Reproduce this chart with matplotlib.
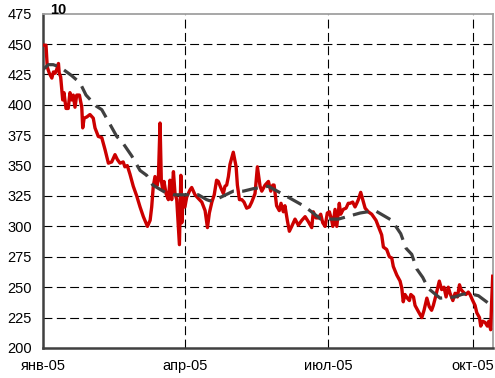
import numpy as np
import pandas as pd
import matplotlib
matplotlib.use("Agg")
import matplotlib.pyplot as plt
import matplotlib.dates as mdates

plt.rcParams['font.family'] = ['Liberation Sans', 'DejaVu Sans']

# days since 1 Jan 2005 and price
price_day = [0, 1.9, 2.7, 4.0, 5.6, 6.6, 7.7, 8.7, 9.8, 10.3, 11.2, 12.5, 13.3, 14.6, 16.0,
             17.1, 18.2, 19.2, 20.3, 21.4, 23.1, 24.6, 25.2, 26.1, 27.8, 29.8, 31.9, 33.0,
             35.1, 37.3, 39.4, 41.5, 43.6, 45.7, 47.2, 48.9, 50.9, 52.0, 53.5, 55.2, 57.3,
             59.5, 61.6, 63.7, 66.3, 68.0, 69.0, 70.0, 71.1, 72.2, 73.2, 74.3, 75.1, 76.0,
             76.8, 78.1, 79.6, 80.6, 81.7, 82.8, 83.8, 84.9, 85.9, 86.6, 87.5, 88.1, 89.0,
             90.1, 91.2, 93.3, 94.4, 96.5, 98.6, 100.8, 102.9, 104.4, 105.6, 107.2, 108.7,
             110.2, 111.3, 112.8, 114.5, 115.5, 116.6, 117.7, 118.7, 120.8, 122.6, 123.4,
             124.7, 126.2, 127.6, 129.3, 131.0, 132.5, 134.6, 136.1, 137.8, 138.9, 141.0,
             143.1, 144.6, 145.9, 146.7, 148.3, 150.0, 151.1, 152.6, 153.6, 155.1, 156.4,
             157.9, 160.0, 162.1, 164.3, 166.4, 168.4, 170.6, 171.6, 173.3, 174.8, 176.3,
             177.6, 179.1, 180.5, 181.8, 183.3, 184.0, 185.4, 186.5, 188.1, 189.0, 190.6,
             192.4, 193.8, 194.9, 196.6, 198.1, 199.2, 200.2, 201.7, 203.0, 204.5, 206.5,
             208.7, 211.4, 212.9, 215.0, 216.1, 218.2, 219.9, 221.4, 222.4, 224.6, 226.7,
             227.8, 228.7, 229.8, 231.3, 232.6, 233.5, 235.2, 236.2, 238.3, 240.5, 241.9,
             243.7, 245.2, 246.7, 247.8, 249.2, 250.3, 251.6, 253.1, 254.6, 255.9, 257.3,
             258.4, 260.2, 261.6, 263.1, 264.4, 265.4, 266.8, 268.5, 270.0, 271.1, 272.8,
             274.3, 275.4, 277.1, 277.9, 279.2, 280.7, 282.1, 283.0, 284.2, 284.8, 285.5]
price_val = [449, 449, 431, 426, 422, 427, 426, 429, 434, 426, 423, 404, 410, 397, 397,
             410, 404, 408, 398, 408, 408, 398, 381, 389, 390, 392, 389, 381,
             374, 373, 363, 352, 353, 359, 355, 352, 353, 349, 350, 343, 333,
             325, 316, 308, 300, 305, 316, 333, 341, 333, 338, 385, 338, 330,
             337, 327, 322, 338, 322, 345, 327, 322, 300, 285, 342, 303, 324,
             316, 324, 330, 332, 326, 323, 320, 313, 299, 311, 320, 326,
             338, 337, 332, 327, 333, 334, 341, 351, 361, 349, 334,
             322, 322, 320, 315, 316, 320, 327, 349, 333, 329, 334,
             337, 329, 334, 334, 317, 313, 319, 312, 317, 305, 296,
             300, 306, 301, 305, 308, 304, 299, 312, 307, 307, 310,
             303, 300, 311, 312, 305, 300, 314, 300, 319, 310, 314,
             315, 319, 319, 320, 316, 319, 322, 328, 322, 315, 312,
             310, 305, 300, 293, 283, 281, 275, 274, 267, 260, 255,
             249, 238, 244, 241, 239, 244, 242, 235, 230, 225, 231,
             241, 234, 231, 235, 242, 248, 255, 248, 250, 242, 250,
             245, 239, 245, 242, 252, 248, 246, 244, 246, 244, 239,
             235, 229, 225, 218, 222, 221, 218, 222, 215, 237, 259]

# smoothed trend
trend_day = [0, 3.4, 6.5, 10.8, 18.2, 23.5, 27.3, 33.7, 37.3, 42.5, 46.8, 51.0, 56.3,
             61.6, 65.8, 69.7, 77.5, 82.7, 90.2, 98.6, 103.9, 106.0, 111.3, 120.8, 127.2,
             133.5, 143.0, 147.3, 155.7, 165.3, 169.5, 176.3, 187.5, 201.3, 210.8, 221.4,
             227.1, 230.5, 234.1, 237.3, 241.1, 244.6, 252.1, 261.6, 265.8, 270.0, 276.4, 285.7]
trend_val = [429, 433, 433, 431, 424, 418, 408, 399, 396, 384, 374, 368, 358,
             346, 342, 334, 328, 326, 326, 326, 322, 321, 323, 329, 329,
             331, 333, 330, 324, 317, 313, 306, 306, 311, 313, 305,
             294, 282, 277, 265, 258, 249, 241, 242, 244, 245, 243, 234]

month_ticks = ['2005-01-01', '2005-04-01', '2005-07-01', '2005-10-01']
month_labels = ['янв-05', 'апр-05', 'июл-05', 'окт-05']
y_ticks = [200, 225, 250, 275, 300, 325, 350, 375, 400, 425, 450, 475]

start = pd.Timestamp('2005-01-01')
px = start + pd.to_timedelta(price_day, unit='D')
tx = start + pd.to_timedelta(trend_day, unit='D')

fig = plt.figure(figsize=(4.95, 3.78), dpi=100)
ax = fig.add_axes([0.0869, 0.0794, 0.9091, 0.8846])

ax.plot(px, price_val, color='#cc0000', lw=2.4, zorder=3)
ax.plot(tx, trend_val, color='#404040', lw=2.3, dashes=(5, 2.6), zorder=4)

ax.set_ylim(200, 475)
ax.set_yticks(y_ticks)
ax.set_xlim(start, start + pd.Timedelta(days=285.7))
ax.set_xticks(pd.to_datetime(month_ticks))
ax.set_xticklabels(month_labels)

ax.tick_params(length=0, labelsize=10.5, colors='black')
ax.tick_params(axis='x', pad=8)
ax.tick_params(axis='y', pad=8)

for y in y_ticks[1:-1]:
    ax.axhline(y, color='black', lw=0.8, dashes=(8, 4), zorder=1)
for d in month_ticks[1:]:
    ax.axvline(pd.Timestamp(d), color='black', lw=0.8, dashes=(8, 4), zorder=1)

ax.spines['left'].set_color('#404040')
ax.spines['left'].set_linewidth(1.8)
ax.spines['bottom'].set_color('#404040')
ax.spines['bottom'].set_linewidth(1.8)
ax.spines['top'].set_color('#a0a0a0')
ax.spines['top'].set_linewidth(1.3)
ax.spines['right'].set_color('#a0a0a0')
ax.spines['right'].set_linewidth(1.3)

fig.text(0.101, 0.963, '10', fontsize=10.5, fontweight='bold', ha='left', va='baseline')

fig.savefig('out.png', dpi=100)
